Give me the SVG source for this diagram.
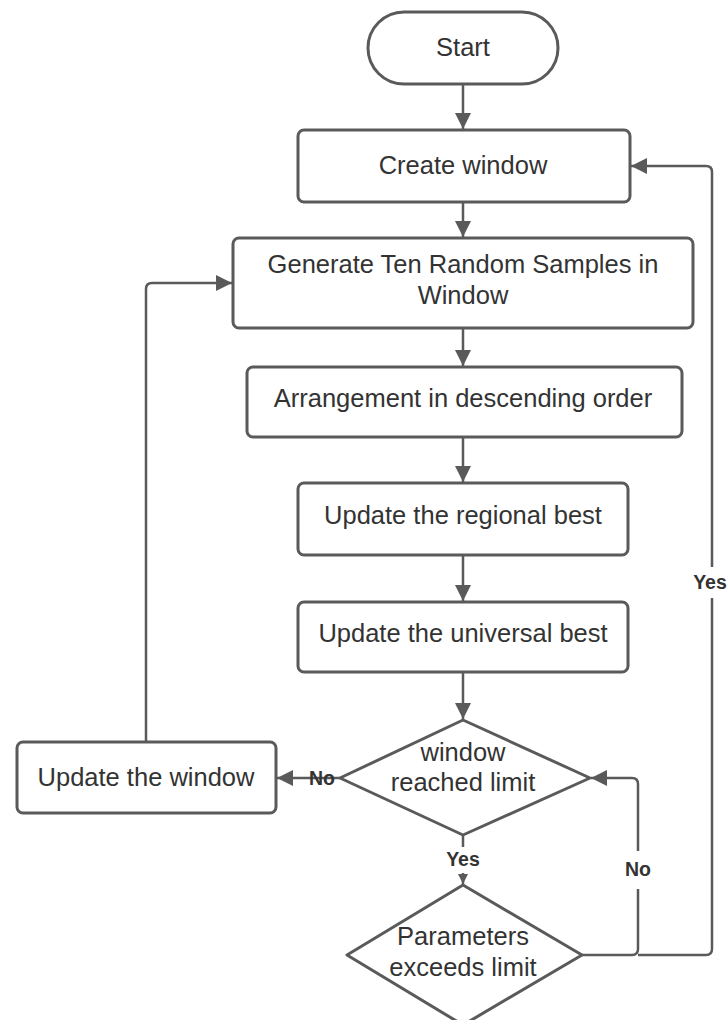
<svg xmlns="http://www.w3.org/2000/svg" width="727" height="1020" viewBox="0 0 727 1020">
  <style>
    .shape { fill: #ffffff; stroke: #5a5a5a; stroke-width: 3; }
    .label { font-family: "Liberation Sans", Arial, sans-serif; font-size: 25.5px; fill: #333333; text-anchor: middle; }
    .edge { fill: none; stroke: #5a5a5a; stroke-width: 2.5; stroke-linejoin: round; }
    .tag { font-family: "Liberation Sans", Arial, sans-serif; font-size: 19.5px; font-weight: bold; fill: #333333; text-anchor: middle; }
  </style>
  <defs>
    <marker id="arrow" viewBox="0 0 10 10" refX="10" refY="5" markerWidth="6.5" markerHeight="6.5" markerUnits="strokeWidth" orient="auto">
      <path d="M0,0 L10,5 L0,10 Z" fill="#5a5a5a"/>
    </marker>
    <marker id="arrowSmall" viewBox="0 0 10 10" refX="10" refY="5" markerWidth="4" markerHeight="4" markerUnits="strokeWidth" orient="auto">
      <path d="M0,0 L10,5 L0,10 Z" fill="#5a5a5a"/>
    </marker>
  </defs>

  <rect width="727" height="1020" fill="#ffffff"/>

  <!-- connectors -->
  <g id="connectors">
    <path class="edge" d="M463,84 V129" marker-end="url(#arrow)"/>
    <path class="edge" d="M463,202 V237" marker-end="url(#arrow)"/>
    <path class="edge" d="M463,328 V366" marker-end="url(#arrow)"/>
    <path class="edge" d="M463,437 V482" marker-end="url(#arrow)"/>
    <path class="edge" d="M463,555 V601" marker-end="url(#arrow)"/>
    <path class="edge" d="M463,672 V719" marker-end="url(#arrow)"/>
    <!-- update window back to sampling -->
    <path class="edge" d="M146,742 V289 Q146,283 152,283 H232" marker-end="url(#arrow)"/>
    <!-- window reached limit: No -->
    <path class="edge" d="M340,778 H304"/>
    <path class="edge" d="M304,778 H277" marker-end="url(#arrow)"/>
    <!-- window reached limit: Yes -->
    <path class="edge" d="M463,835 V847"/>
    <path class="edge" d="M463,873 V884" marker-end="url(#arrowSmall)"/>
    <!-- parameters exceeds limit: No -->
    <path class="edge" d="M582,955 H632 Q638,955 638,949 V889"/>
    <path class="edge" d="M638,851 V784 Q638,778 632,778 H591" marker-end="url(#arrow)"/>
    <!-- parameters exceeds limit: Yes -->
    <path class="edge" d="M638,955 H706 Q712,955 712,949 V598"/>
    <path class="edge" d="M712,567 V172 Q712,166 706,166 H631" marker-end="url(#arrow)"/>
    <text class="tag" x="322" y="785">No</text>
    <text class="tag" x="463" y="866">Yes</text>
    <text class="tag" x="638" y="876">No</text>
    <text class="tag" x="710" y="589">Yes</text>
  </g>

  <g id="start">
    <rect class="shape" x="368" y="12" width="190" height="72" rx="36" ry="36"/>
    <text class="label" x="463" y="56">Start</text>
  </g>

  <g id="create-window">
    <rect class="shape" x="298" y="130" width="332" height="72" rx="6"/>
    <text class="label" x="463" y="174">Create window</text>
  </g>

  <g id="generate-samples">
    <rect class="shape" x="233" y="238" width="460" height="90" rx="6"/>
    <text class="label" x="463" y="273">Generate Ten Random Samples in</text>
    <text class="label" x="463" y="304">Window</text>
  </g>

  <g id="arrangement">
    <rect class="shape" x="247" y="367" width="435" height="70" rx="6"/>
    <text class="label" x="463" y="407">Arrangement in descending order</text>
  </g>

  <g id="regional-best">
    <rect class="shape" x="298" y="483" width="330" height="72" rx="6"/>
    <text class="label" x="463" y="524">Update the regional best</text>
  </g>

  <g id="universal-best">
    <rect class="shape" x="298" y="602" width="330" height="70" rx="6"/>
    <text class="label" x="463" y="642">Update the universal best</text>
  </g>

  <g id="window-limit">
    <path class="shape" d="M463,720 L590,778 L463,835 L340,778 Z" stroke-linejoin="round"/>
    <text class="label" x="463" y="761">window</text>
    <text class="label" x="463" y="791">reached limit</text>
  </g>

  <g id="update-window">
    <rect class="shape" x="17" y="742" width="259" height="71" rx="6"/>
    <text class="label" x="146" y="786">Update the window</text>
  </g>

  <g id="parameters-limit">
    <path class="shape" d="M463,885 L582,955 L463,1025 L347,955 Z" stroke-linejoin="round"/>
    <text class="label" x="463" y="945">Parameters</text>
    <text class="label" x="463" y="976">exceeds limit</text>
  </g>
</svg>
